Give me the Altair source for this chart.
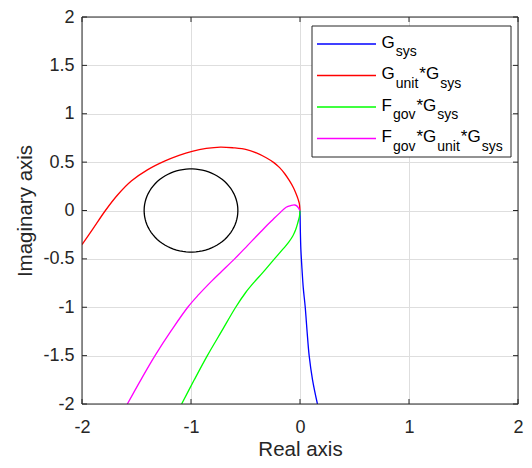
import altair as alt
import numpy as np
import pandas as pd

# ---- data ----
blue_x = [0.0, 0.003, 0.008, 0.018, 0.03, 0.048, 0.065, 0.084, 0.115, 0.16]
blue_y = [0.0, -0.2, -0.4, -0.6, -0.8, -1.0, -1.25, -1.5, -1.75, -2.0]

red_x = [-2.0, -1.9, -1.785, -1.67, -1.545, -1.40, -1.243, -1.11, -0.99, -0.86,
         -0.73, -0.61, -0.49, -0.40, -0.31, -0.24, -0.187, -0.14, -0.097, -0.06,
         -0.036, -0.017, -0.006, 0.0]
red_y = [-0.352, -0.19, 0.0, 0.165, 0.307, 0.42, 0.51, 0.57, 0.612, 0.642,
         0.656, 0.648, 0.63, 0.595, 0.545, 0.495, 0.443, 0.38, 0.308, 0.235,
         0.173, 0.115, 0.071, 0.0]

green_x = [0.0, -0.005, -0.021, -0.04, -0.066, -0.105, -0.157, -0.25, -0.34, -0.42,
           -0.50, -0.59, -0.72, -0.85, -0.97, -1.086]
green_y = [0.0, -0.06, -0.13, -0.20, -0.264, -0.33, -0.40, -0.52, -0.64, -0.74,
           -0.85, -1.0, -1.25, -1.5, -1.75, -2.0]

magenta_x = [0.0, -0.012, -0.03, -0.05, -0.08, -0.127, -0.187, -0.25, -0.30, -0.36,
             -0.48, -0.60, -0.72, -0.82, -0.93, -1.03, -1.18, -1.33, -1.46, -1.584]
magenta_y = [0.0, 0.023, 0.048, 0.057, 0.052, 0.034, -0.027, -0.095, -0.15, -0.22,
             -0.36, -0.5, -0.63, -0.74, -0.87, -1.0, -1.24, -1.5, -1.75, -2.0]

circle_center = [-1.0, 0.0]
circle_radius = [0.43]

series_names = ["G_sys", "G_unit*G_sys", "F_gov*G_sys", "F_gov*G_unit*G_sys"]
series_colors = ["#0000ff", "#ff0000", "#00ff00", "#ff00ff"]

x_ticks = [-2, -1, 0, 1, 2]
y_ticks = [-2, -1.5, -1, -0.5, 0, 0.5, 1, 1.5, 2]

# legend text pieces: (text, is_subscript)
legend_pieces = [
    [("G", 0), ("sys", 1)],
    [("G", 0), ("unit", 1), ("*G", 0), ("sys", 1)],
    [("F", 0), ("gov", 1), ("*G", 0), ("sys", 1)],
    [("F", 0), ("gov", 1), ("*G", 0), ("unit", 1), ("*G", 0), ("sys", 1)],
]

# ---- layout / style ----
PAD_L, PAD_T, PAD_R, PAD_B = 74, 9, 6, 56
W, H = 436, 387
FONT = "Liberation Sans"
INK = "#262626"
BASE_FS, SUB_FS = 17, 14
TOP = PAD_T + 8  # page y of plot top (page margin 8)

rows = []
for name, xs, ys in zip(series_names, [blue_x, red_x, green_x, magenta_x],
                        [blue_y, red_y, green_y, magenta_y]):
    for i, (a, b) in enumerate(zip(xs, ys)):
        rows.append({"series": name, "i": i, "x": a, "y": b})
df = pd.DataFrame(rows)

ang = np.deg2rad(np.arange(0, 361, 4))
circ = pd.DataFrame({
    "i": np.arange(len(ang)),
    "x": circle_center[0] + circle_radius[0] * np.cos(ang),
    "y": circle_center[1] + circle_radius[0] * np.sin(ang),
})

xscale = alt.Scale(domain=[-2, 2], nice=False, zero=False)
yscale = alt.Scale(domain=[-2, 2], nice=False, zero=False)
cscale = alt.Scale(domain=series_names, range=series_colors)

x_axis = alt.Axis(values=x_ticks, labelExpr="toString(datum.value)", ticks=False, tickSize=0,
                  domain=False, grid=True, gridColor="#dedede", gridWidth=1,
                  labelFont=FONT, labelFontSize=18, labelColor=INK, labelPadding=14,
                  labelFlush=False, titleFont=FONT, titleFontSize=20.5,
                  titleFontWeight="normal", titleColor=INK, titleY=51,
                  titleBaseline="alphabetic")
y_axis = alt.Axis(values=y_ticks, labelExpr="toString(datum.value)", ticks=False, tickSize=0,
                  domain=False, grid=True, gridColor="#dedede", gridWidth=1,
                  labelFont=FONT, labelFontSize=18, labelColor=INK, labelPadding=8,
                  labelFlush=False, titleFont=FONT,
                  titleFontSize=20.5, titleFontWeight="normal", titleColor=INK,
                  titleX=-51, titleY=H / 2, titleAngle=270, titleBaseline="alphabetic",
                  titleAlign="center")


def X(field):
    return alt.X(field, scale=xscale, axis=x_axis, title="Real axis")


def Y(field):
    return alt.Y(field, scale=yscale, axis=y_axis, title="Imaginary axis")


curves = alt.Chart(df).mark_line(clip=True, strokeWidth=1.3, interpolate="catmull-rom").encode(
    x=X("x:Q"), y=Y("y:Q"),
    color=alt.Color("series:N", scale=cscale, legend=None),
    order="i:Q",
)

circle = alt.Chart(circ).mark_line(clip=True, strokeWidth=1.3, color="black").encode(
    x=X("x:Q"), y=Y("y:Q"), order="i:Q",
)

one = pd.DataFrame({"a": [0]})
xt = pd.DataFrame({"x": x_ticks})
yt = pd.DataFrame({"y": y_ticks})
tick_style = dict(color=INK, strokeWidth=1)
xt_bottom = alt.Chart(xt).mark_rule(**tick_style).encode(
    x=X("x:Q"), y=alt.value(H), y2=alt.value(H - 5))
xt_top = alt.Chart(xt).mark_rule(**tick_style).encode(
    x=X("x:Q"), y=alt.value(0), y2=alt.value(5))
yt_left = alt.Chart(yt).mark_rule(**tick_style).encode(
    y=Y("y:Q"), x=alt.value(0), x2=alt.value(5))
yt_right = alt.Chart(yt).mark_rule(**tick_style).encode(
    y=Y("y:Q"), x=alt.value(W), x2=alt.value(W - 5))

frame = alt.Chart(one).mark_rect(fill="transparent", stroke=INK, strokeWidth=1).encode(
    x=alt.value(0), x2=alt.value(W), y=alt.value(0), y2=alt.value(H))

# ---- legend (MATLAB style box), positions in plot-area pixels ----
box = alt.Chart(one).mark_rect(fill="white", stroke=INK, strokeWidth=1).encode(
    x=alt.value(230), x2=alt.value(429), y=alt.value(26 - TOP), y2=alt.value(157 - TOP))

line_y = [44 - TOP, 75.5 - TOP, 107 - TOP, 138.5 - TOP]
leg_layers = [box]
for name, col, ly in zip(series_names, series_colors, line_y):
    leg_layers.append(alt.Chart(one).mark_rule(strokeWidth=1.3, color=col).encode(
        x=alt.value(235), x2=alt.value(294), y=alt.value(ly)))

adv = {"G": 0.778, "F": 0.611, "*": 0.389, "u": 0.556, "n": 0.556, "i": 0.222,
       "t": 0.278, "s": 0.5, "y": 0.5, "g": 0.556, "o": 0.556, "v": 0.5}
for ly, pieces in zip(line_y, legend_pieces):
    px = 299.5
    prev = None
    for txt, sub in pieces:
        fs = SUB_FS if sub else BASE_FS
        if prev is not None and prev != sub:
            px += 1
        leg_layers.append(alt.Chart(one).mark_text(
            text=txt, align="left", baseline="alphabetic", font=FONT,
            fontSize=fs, color="black").encode(
            x=alt.value(px), y=alt.value(ly + (12.4 if sub else 3.7))))
        px += sum(adv[c] for c in txt) * fs
        prev = sub

chart = alt.layer(
    curves, circle, xt_bottom, xt_top, yt_left, yt_right, frame, *leg_layers
).properties(
    width=W, height=H,
    autosize=alt.AutoSizeParams(type="none"),
    padding={"left": PAD_L, "top": PAD_T, "right": PAD_R, "bottom": PAD_B},
).configure_view(stroke=None).configure(background="white")

chart.save("out.html", embed_options={"renderer": "svg", "actions": False})
